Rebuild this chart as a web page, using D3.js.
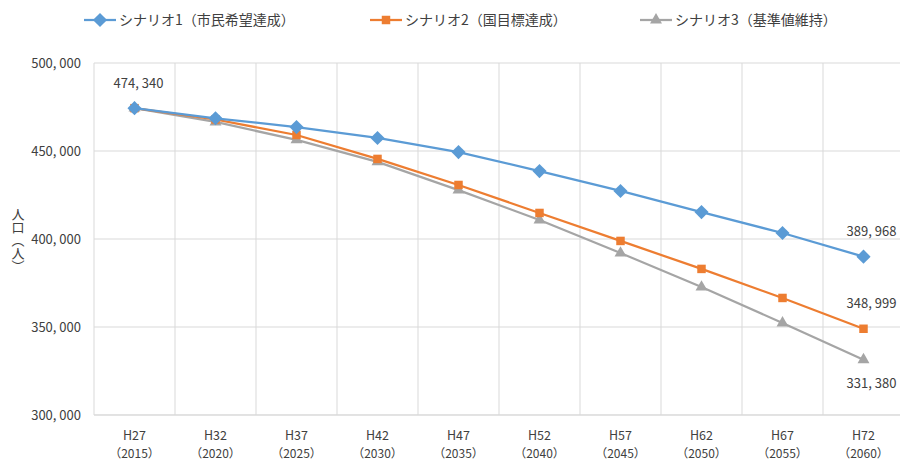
<!DOCTYPE html>
<html><head><meta charset="utf-8">
<script src="https://cdn.jsdelivr.net/npm/d3@7/dist/d3.min.js"></script>
<style>
html,body{margin:0;padding:0;background:#fff;}
text{font-family:"Noto Sans CJK JP","Noto Sans",sans-serif;fill:#404040;}
</style></head>
<body><svg id="c" width="900" height="462"></svg>
<script>
const categories = ["H27","H32","H37","H42","H47","H52","H57","H62","H67","H72"];
const years = ["2015","2020","2025","2030","2035","2040","2045","2050","2055","2060"];
const seriesNames = ["シナリオ1（市民希望達成）","シナリオ2（国目標達成）","シナリオ3（基準値維持）"];
const scenario1 = [474340,468600,463600,457400,449400,438600,427300,415300,403400,389968];
const scenario2 = [474340,467900,459100,445500,430700,414800,398900,383000,366500,348999];
const scenario3 = [474340,466500,456300,443800,427800,410800,392000,372700,352300,331380];
const yTicks = [300000,350000,400000,450000,500000];
const colors = ["#5B9BD5","#ED7D31","#A5A5A5"];

const squareDiamond = { draw(ctx, size) { const r = Math.sqrt(size / 2); ctx.moveTo(0, -r); ctx.lineTo(r, 0); ctx.lineTo(0, r); ctx.lineTo(-r, 0); ctx.closePath(); } };
const markers = [squareDiamond, d3.symbolSquare, d3.symbolTriangle];
const sizes = [100, 72, 62];

const svg = d3.select("#c");
const L = 94, R = 904, T = 63, B = 415;
const x = d3.scaleBand().domain(categories).range([L, R]);
const y = d3.scaleLinear().domain([300000, 500000]).range([B, T]);
const fmt = v => d3.format(",")(v).replace(/,/g, ", ");

svg.append("g").selectAll("line").data(yTicks).join("line")
  .attr("x1", L).attr("x2", R).attr("y1", d => y(d)).attr("y2", d => y(d))
  .attr("stroke", "#d9d9d9").attr("stroke-width", 1);
svg.append("g").selectAll("line").data(categories).join("line")
  .attr("x1", d => x(d) + x.bandwidth()).attr("x2", d => x(d) + x.bandwidth())
  .attr("y1", T).attr("y2", B)
  .attr("stroke", "#d9d9d9").attr("stroke-width", 1);
svg.append("line").attr("x1", L).attr("x2", L).attr("y1", T).attr("y2", B).attr("stroke", "#d9d9d9");
svg.append("line").attr("x1", L).attr("x2", R).attr("y1", B).attr("y2", B).attr("stroke", "#d9d9d9");

svg.append("g").selectAll("text").data(yTicks).join("text")
  .attr("x", 81).attr("y", d => y(d)).attr("dy", "0.35em")
  .attr("text-anchor", "end").attr("font-size", 13).text(d => fmt(d));

const xl = svg.append("g").selectAll("g").data(categories).join("g")
  .attr("transform", d => `translate(${x(d) + x.bandwidth()/2},0)`);
xl.append("text").attr("y", 440).attr("text-anchor", "middle").attr("font-size", 12.5).text(d => d);
xl.append("text").attr("y", 458).attr("text-anchor", "middle").attr("font-size", 12)
  .text((d, i) => "（" + years[i] + "）");

svg.append("text").attr("x", 18).attr("y", 208)
  .attr("font-size", 13).style("writing-mode", "vertical-rl")
  .attr("text-anchor", "start").text("人口（人）");

const data = [scenario1, scenario2, scenario3];
const line = d3.line().x((d, i) => x(categories[i]) + x.bandwidth()/2).y(d => y(d));
const order = [2, 1, 0];
order.forEach(s => {
  svg.append("path").datum(data[s]).attr("d", line)
    .attr("fill", "none").attr("stroke", colors[s]).attr("stroke-width", 2.25)
    .attr("stroke-linejoin", "round");
});
order.forEach(s => {
  svg.append("g").selectAll("path").data(data[s]).join("path")
    .attr("transform", (d, i) => `translate(${x(categories[i]) + x.bandwidth()/2},${y(d)})`)
    .attr("d", d3.symbol().type(markers[s]).size(sizes[s]))
    .attr("fill", colors[s]);
});

const lbl = [
  {v: scenario1[0], i: 0, dx: 4, dy: -20},
  {v: scenario1[9], i: 9, dx: 8, dy: -21},
  {v: scenario2[9], i: 9, dx: 8, dy: -21},
  {v: scenario3[9], i: 9, dx: 8, dy: 28}
];
svg.append("g").selectAll("text").data(lbl).join("text")
  .attr("x", d => x(categories[d.i]) + x.bandwidth()/2 + d.dx)
  .attr("y", d => y(d.v) + d.dy)
  .attr("text-anchor", "middle").attr("font-size", 13).text(d => fmt(d.v));

const legX = [84, 370, 640];
seriesNames.forEach((n, s) => {
  const g = svg.append("g").attr("transform", `translate(${legX[s]},20)`);
  g.append("line").attr("x1", 0).attr("x2", 32).attr("stroke", colors[s]).attr("stroke-width", 2.25);
  g.append("path").attr("transform", "translate(16,0)")
    .attr("d", d3.symbol().type(markers[s]).size(sizes[s])).attr("fill", colors[s]);
  g.append("text").attr("x", 35).attr("dy", "0.35em").attr("font-size", 14).text(n);
});
</script></body></html>
